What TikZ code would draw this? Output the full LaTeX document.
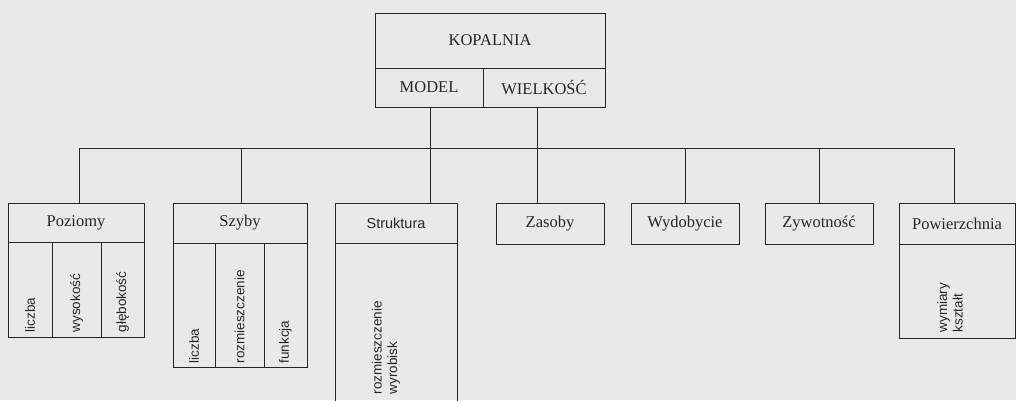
\documentclass[tikz,border=0pt]{standalone}
\usepackage{fontspec}
\setmainfont{Liberation Serif}
\newfontfamily\lblsans{Liberation Sans}
\definecolor{paper}{HTML}{E8EAEA}
\definecolor{ink}{HTML}{262626}
\begin{document}
\begin{tikzpicture}[x=1pt,y=-1pt,
  cell/.style={draw=ink, line width=1pt, inner sep=0pt, text=ink,
    font=\fontsize{16.5}{19}\selectfont},
  sanscell/.style={cell, font=\lblsans\fontsize{14.5}{17}\selectfont},
  vlabel/.style={rotate=90, anchor=west, inner sep=0pt, text=ink, align=left,
    font=\lblsans\fontsize{13.5}{15.5}\selectfont},
  wire/.style={draw=ink, line width=1pt}]
\fill[paper] (0,0) rectangle (1016,400);
\useasboundingbox (0,0) rectangle (1016,400);

% root
\node[cell, minimum width=230, minimum height=55] (kop) at (490,40.5) {KOPALNIA};
\node[cell, minimum width=108, minimum height=39] (mod) at (429,87.5) {MODEL};
\node[cell, minimum width=122, minimum height=39] (wie) at (544,87.5) {WIELKOŚĆ};

% Poziomy
\node[cell, minimum width=136, minimum height=39] (pozH) at (76,222.5) {Poziomy};
\node[cell, minimum width=44, minimum height=95] (poz1) at (30,289.5) {};
\node[cell, minimum width=49, minimum height=95] (poz2) at (76.5,289.5) {};
\node[cell, minimum width=43, minimum height=95] (poz3) at (122.5,289.5) {};
\node[vlabel] (poz1t) at ([yshift=5pt]poz1.south) {liczba};
\node[vlabel] (poz2t) at ([yshift=5pt]poz2.south) {wysokość};
\node[vlabel] (poz3t) at ([yshift=5pt]poz3.south) {głębokość};

% Szyby
\node[cell, minimum width=134, minimum height=40] (szyH) at (240,223) {Szyby};
\node[cell, minimum width=42, minimum height=124] (szy1) at (194,305) {};
\node[cell, minimum width=49, minimum height=124] (szy2) at (239.5,305) {};
\node[cell, minimum width=43, minimum height=124] (szy3) at (285.5,305) {};
\node[vlabel] (szy1t) at ([yshift=4pt]szy1.south) {liczba};
\node[vlabel] (szy2t) at ([yshift=4pt]szy2.south) {rozmieszczenie};
\node[vlabel] (szy3t) at ([yshift=4pt]szy3.south) {funkcja};

% Struktura
\node[sanscell, minimum width=122, minimum height=40] (strH) at (396,223) {Struktura};
\node[cell, minimum width=122, minimum height=167] (strB) at (396,326.5) {};
\node[vlabel] (strt) at ([xshift=-10pt,yshift=16pt]strB.south) {rozmieszczenie\\wyrobisk};

% single boxes
\node[cell, minimum width=108, minimum height=41] (zas) at (550,223.5) {Zasoby};
\node[cell, minimum width=108, minimum height=41] (wyd) at (685,223.5) {Wydobycie};
\node[cell, minimum width=108, minimum height=41] (zyw) at (819,223.5) {Zywotność};

% Powierzchnia
\node[cell, minimum width=116, minimum height=41] (powH) at (957,223.5) {Powierzchnia};
\node[cell, minimum width=116, minimum height=94] (powB) at (957,291) {};
\node[vlabel] (powt) at ([xshift=-7pt,yshift=6pt]powB.south) {wymiary\\kształt};

% drop points on the header tops and the bus level
\coordinate (bus) at (0,148);
\coordinate (tPoz) at (79,203);
\coordinate (tSzy) at (241,203);
\coordinate (tStr) at (430,203);
\coordinate (tZas) at (537,203);
\coordinate (tWyd) at (685,203);
\coordinate (tZyw) at (819,203);
\coordinate (tPow) at (954,203);

\draw[wire] (tPoz) -- (tPoz |- bus) -- (tPow |- bus) -- (tPow);
\draw[wire] (mod.south -| tStr) -- (tStr);
\draw[wire] (wie.south -| tZas) -- (tZas);
\draw[wire] (tSzy |- bus) -- (tSzy);
\draw[wire] (tWyd |- bus) -- (tWyd);
\draw[wire] (tZyw |- bus) -- (tZyw);
\end{tikzpicture}
\end{document}
